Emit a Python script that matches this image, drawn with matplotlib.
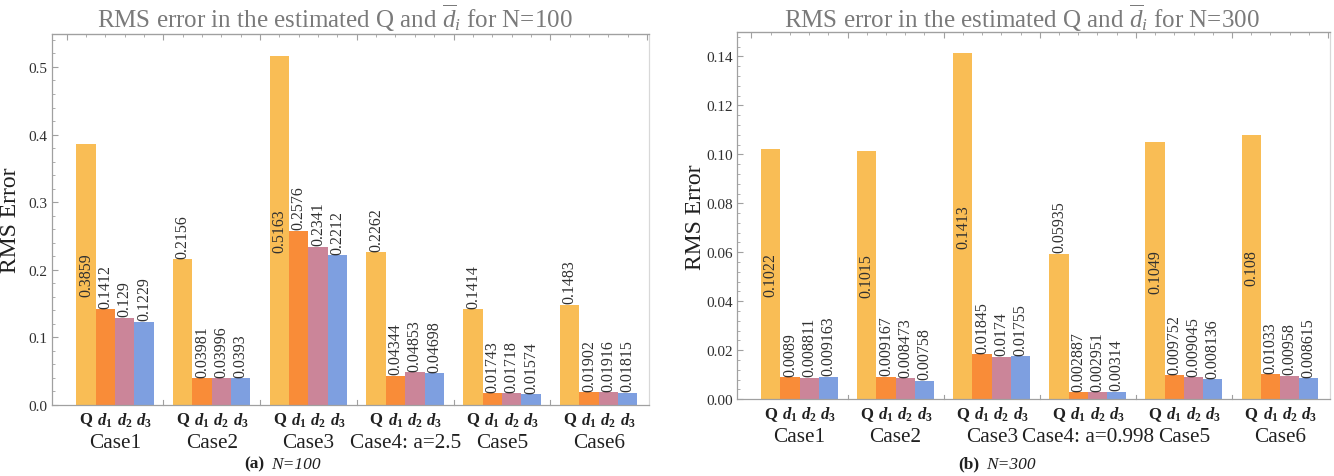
import matplotlib
matplotlib.use("Agg")
import matplotlib.pyplot as plt
from matplotlib import transforms
from matplotlib.ticker import MultipleLocator, FixedLocator

plt.rcParams['font.family'] = ['Liberation Serif', 'DejaVu Serif']
plt.rcParams['mathtext.fontset'] = 'custom'
plt.rcParams['mathtext.rm'] = 'Liberation Serif'
plt.rcParams['mathtext.it'] = 'Liberation Serif:italic'
plt.rcParams['mathtext.bf'] = 'Liberation Serif:bold:italic'
plt.rcParams['mathtext.sf'] = 'Liberation Serif:bold'

# ---- data -------------------------------------------------------------
cases_100 = ["Case1", "Case2", "Case3", "Case4: a=2.5", "Case5", "Case6"]
cases_300 = ["Case1", "Case2", "Case3", "Case4: a=0.998", "Case5", "Case6"]
series = ["Q", "d1", "d2", "d3"]
bar_ticks = ["Q", r"$\mathbf{d}_{\mathsf{1}}$", r"$\mathbf{d}_{\mathsf{2}}$",
             r"$\mathbf{d}_{\mathsf{3}}$"]

# rows: Q, d1, d2, d3 ; columns: cases
rms_100 = [
    [0.3859, 0.2156, 0.5163, 0.2262, 0.1414, 0.1483],
    [0.1412, 0.03981, 0.2576, 0.04344, 0.01743, 0.01902],
    [0.129, 0.03996, 0.2341, 0.04853, 0.01718, 0.01916],
    [0.1229, 0.0393, 0.2212, 0.04698, 0.01574, 0.01815],
]
rms_300 = [
    [0.1022, 0.1015, 0.1413, 0.05935, 0.1049, 0.108],
    [0.0089, 0.009167, 0.01845, 0.002887, 0.009752, 0.01033],
    [0.008811, 0.008473, 0.0174, 0.002951, 0.009045, 0.00958],
    [0.009163, 0.00758, 0.01755, 0.00314, 0.008136, 0.008615],
]

colors = ["#F9BD55", "#F98C38", "#CB8599", "#7E9FE0"]
frame_col = "#A0A0A0"


def draw_panel(ax, data, cases, ymax, ystep, yfmt):
    n_series = len(data)
    n_groups = len(cases)
    gap = n_series + 1
    for k in range(n_series):
        xs = [gap * g + k for g in range(n_groups)]
        ax.bar(xs, data[k], width=1.0, align='edge', color=colors[k],
               edgecolor='none', zorder=2)
        for x, v in zip(xs, data[k]):
            txt = f"{v:g}"
            if v > 0.55 * ymax:
                ax.text(x + 0.5, v / 2, txt, rotation=90, ha='center',
                        va='center', fontsize=11.5, color='#303030', zorder=3)
            else:
                ax.annotate(txt, (x + 0.5, v), xytext=(0, 1.0),
                            textcoords='offset points', rotation=90,
                            ha='center', va='bottom', fontsize=11.5,
                            color='#303030', zorder=3)

    ax.set_xlim(-1.25, gap * (n_groups - 1) + n_series + 0.6)
    ax.set_ylim(0, ymax)

    # bar-name tick labels under every bar
    pos = [gap * g + k + 0.5 for g in range(n_groups) for k in range(n_series)]
    labs = [bar_ticks[k] for g in range(n_groups) for k in range(n_series)]
    ax.set_xticks(pos)
    ax.set_xticklabels(labs, fontsize=12, fontweight='bold')
    ax.tick_params(axis='x', length=0, pad=4, colors='#202020')
    # small separators between groups
    for g in range(1, n_groups):
        ax.plot([gap * g - 0.5] * 2, [0, 0.012 * ymax], color=frame_col,
                lw=0.8, clip_on=False, zorder=1)

    trans = transforms.blended_transform_factory(ax.transData, ax.transAxes)
    for g, name in enumerate(cases):
        ax.annotate(name, (gap * g + n_series / 2, 0), xycoords=trans,
                    xytext=(0, -27), textcoords='offset points',
                    ha='center', va='center', fontsize=15.3, color='#202020')

    ax.yaxis.set_major_locator(MultipleLocator(ystep))
    ax.yaxis.set_minor_locator(MultipleLocator(ystep / 5))
    ax.yaxis.set_major_formatter(lambda v, p: yfmt % v)
    ax.tick_params(axis='y', which='major', direction='in', length=4,
                   labelsize=11, colors=frame_col, labelcolor='#303030', pad=3)
    ax.tick_params(axis='y', which='minor', direction='in', length=2,
                   colors=frame_col)
    ax.set_ylabel("RMS Error", fontsize=17, color='#202020')
    ax.yaxis.set_label_coords(-0.052, 0.5)

    # mirrored ticks along the top frame
    top = ax.secondary_xaxis('top')
    top.xaxis.set_major_locator(FixedLocator([gap * g - 0.5 for g in range(n_groups + 1)]))
    top.xaxis.set_minor_locator(FixedLocator([x - 0.5 for x in range(0, gap * n_groups)]))
    top.tick_params(which='major', direction='in', length=4, colors=frame_col,
                    labeltop=False)
    top.tick_params(which='minor', direction='in', length=2, colors=frame_col)
    top.spines['top'].set_color(frame_col)

    for side in ['left', 'bottom', 'top']:
        ax.spines[side].set_color(frame_col)
        ax.spines[side].set_linewidth(0.9)
    ax.spines['right'].set_color('#D8D8D8')
    ax.spines['right'].set_linewidth(0.9)


fig = plt.figure(figsize=(13.34, 4.77), dpi=100)
ax1 = fig.add_axes([0.039, 0.149, 0.4475, 0.778])
ax2 = fig.add_axes([0.5525, 0.161, 0.4445, 0.769])

draw_panel(ax1, rms_100, cases_100, 0.549, 0.1, "%.1f")
draw_panel(ax2, rms_300, cases_300, 0.1498, 0.02, "%.2f")

fig.text(0.251, 0.962, r"RMS error in the estimated Q and $\overline{d}_i$ for N=100",
         ha='center', va='center', fontsize=18, color='#7A7A7A')
fig.text(0.766, 0.962, r"RMS error in the estimated Q and $\overline{d}_i$ for N=300",
         ha='center', va='center', fontsize=18, color='#7A7A7A')

fig.text(0.1985, 0.026, "(a)", ha='right', va='center', fontsize=12.5,
         fontweight='bold', color='#202020')
fig.text(0.2030, 0.026, "N=100", ha='left', va='center', fontsize=12.5,
         style='italic', color='#202020')
fig.text(0.7345, 0.026, "(b)", ha='right', va='center', fontsize=12.5,
         fontweight='bold', color='#202020')
fig.text(0.7390, 0.026, "N=300", ha='left', va='center', fontsize=12.5,
         style='italic', color='#202020')

fig.savefig("out.png", dpi=100)
